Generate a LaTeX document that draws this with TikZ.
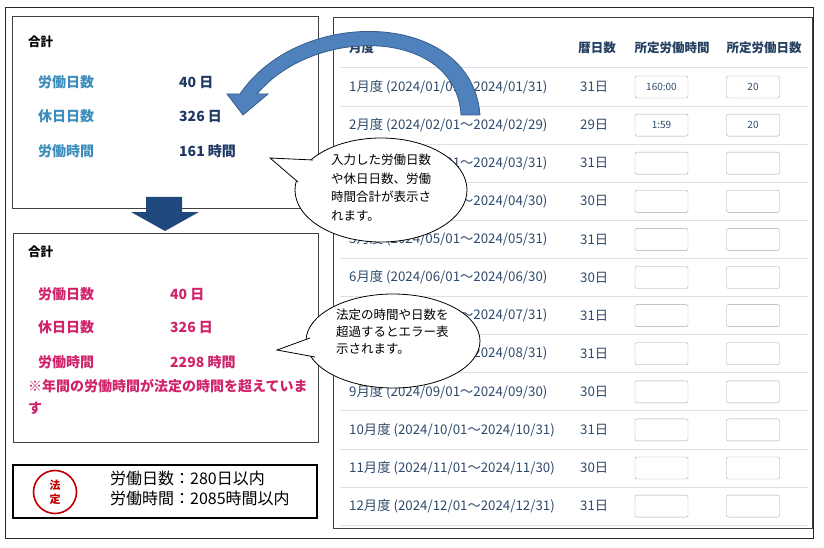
\documentclass[tikz,border=0pt]{standalone}
\usepackage{fontspec}
\setmainfont{Noto Sans CJK JP}
\definecolor{lblue}{HTML}{3C8DBC}
\definecolor{navy}{HTML}{1F3864}
\definecolor{mag}{HTML}{D0246A}
\definecolor{tbl}{HTML}{2E4A6B}
\definecolor{hdr}{HTML}{243F60}
\definecolor{rowl}{HTML}{D9E1EA}
\definecolor{inb}{HTML}{A0A8B0}
\definecolor{arrf}{HTML}{4F81BD}
\definecolor{arrd}{HTML}{385D8A}
\definecolor{darr}{HTML}{1F497D}
\definecolor{hred}{HTML}{C00000}
\tikzset{
 panel/.style={draw=black!75,line width=0.8pt},
 t/.style={anchor=west,inner sep=0pt,font=\fontsize{13.3}{15}\selectfont,text=tbl},
 th/.style={inner sep=0pt,font=\bfseries\fontsize{12.5}{14}\selectfont,text=hdr},
 inbox/.style={draw=inb,rounded corners=2pt,minimum width=53pt,minimum height=22pt,inner sep=0pt,font=\fontsize{10}{11}\selectfont,text=tbl},
 lab/.style={anchor=west,inner sep=0pt,font=\bfseries\fontsize{14}{16}\selectfont},
 bub/.style={align=left,anchor=north west,inner sep=0pt,font=\fontsize{12.5}{18.5}\selectfont},
}
\begin{document}
\begin{tikzpicture}[x=1pt,y=-1pt]
\useasboundingbox (0,0) rectangle (824,548);
\draw[black!85,line width=0.9pt] (5,7) rectangle (813,538);
% right panel
\draw[panel] (333,17) rectangle (812,528);
\node[th,anchor=west] (hm) at (349,48) {月度};
\node[th] (hd) at (597,48) {暦日数};
\node[th] (ht) at (672,48) {所定労働時間};
\node[th] (hn) at (764,48) {所定労働日数};
\foreach \i in {0,...,12}{\draw[rowl,line width=1pt] (340,{68+38.1*\i}) -- (808,{68+38.1*\i});}
\foreach \m/\a/\b/\d [count=\i from 0] in {1/01/01/31,2/02/02/29,3/03/03/31,4/04/04/30,5/05/05/31,6/06/06/30,7/07/07/31,8/08/08/31,9/09/09/30,10/10/10/31,11/11/11/30,12/12/12/31}{
 \node[t] (m\m) at (349,{87+38.1*\i}) {\m 月度 (2024/\a/01～2024/\b/\d)};
 \node[t] (d\m) at (580,{87+38.1*\i}) {\d 日};
}
\foreach \m [count=\i from 0] in {1,...,12}{
 \node[inbox] (it\m) at (661.5,{87+38.1*\i}) {};
 \node[inbox] (in\m) at (753,{87+38.1*\i}) {};
}
\node[font=\fontsize{10}{11}\selectfont,text=tbl] at (it1) {160:00};
\node[font=\fontsize{10}{11}\selectfont,text=tbl] at (it2) {1:59};
\node[font=\fontsize{10}{11}\selectfont,text=tbl] at (in1) {20};
\node[font=\fontsize{10}{11}\selectfont,text=tbl] at (in2) {20};
% box 1
\draw[panel] (12,16) rectangle (318,208);
\node[lab,font=\bfseries\fontsize{12.5}{14}\selectfont] (g1) at (28,42) {合計};
\node[lab,text=lblue] (a1) at (38,82) {労働日数};
\node[lab,text=lblue] (b1) at (38,116) {休日日数};
\node[lab,text=lblue] (c1) at (38,151) {労働時間};
\node[lab,text=navy] (a1v) at (179,82) {40 日};
\node[lab,text=navy] (b1v) at (179,116) {326 日};
\node[lab,text=navy] (c1v) at (179,151) {161 時間};
% down arrow
\fill[darr] (146,197) -- (182,197) -- (182,212) -- (199,212) -- (165,231) -- (131,212) -- (146,212) -- cycle;
% box 2
\draw[panel] (13,233) rectangle (318,442);
\node[lab,font=\bfseries\fontsize{12.5}{14}\selectfont] (g2) at (28,252) {合計};
\node[lab,text=mag] (a2) at (38,294) {労働日数};
\node[lab,text=mag] (b2) at (38,327) {休日日数};
\node[lab,text=mag] (c2) at (38,362) {労働時間};
\node[lab,text=mag] (a2v) at (170,294) {40 日};
\node[lab,text=mag] (b2v) at (170,327) {326 日};
\node[lab,text=mag] (c2v) at (170,362) {2298 時間};
\node[lab,text=mag,anchor=north west,align=left,font=\bfseries\fontsize{14}{22}\selectfont] (w2) at (28,379) {※年間の労働時間が法定の時間を超えていま\\す};
% legal box
\draw[black,line width=1.2pt] (13,465) rectangle (317,518);
\node[circle,draw=hred,line width=1.6pt,minimum size=43pt,inner sep=0pt,align=center,text=hred,font=\bfseries\fontsize{11}{14}\selectfont] (hc) at (55,492) {法\\定};
\node[anchor=north west,inner sep=0pt,align=left,font=\fontsize{16}{20}\selectfont] (lt) at (110,471) {労働日数：280日以内\\労働時間：2085時間以内};
% curved arrow
\draw[arrd,fill=arrf,line width=0.8pt] (240,94) .. controls (300,5) and (472,10) .. (480,115) -- (461,115) .. controls (456,28) and (315,25) .. (257,94) -- (268,94) -- (243,115) -- (227,94) -- cycle;
% callout 1
\draw[fill=white,line width=0.8pt] (381,190) ellipse [x radius=86,y radius=52];
\fill[white] (313,160) -- (270,158) -- (298,182) -- (320,185) -- (325,165) -- cycle;
\draw[line width=0.8pt] (313,160) -- (270,158) -- (298,182);
\node[bub] (bt1) at (331,154) {入力した労働日数\\や休日日数、労働\\時間合計が表示さ\\れます。};
% callout 2
\draw[fill=white,line width=0.8pt] (393,341) ellipse [x radius=87,y radius=47];
\fill[white] (310,338) -- (277,350) -- (315,357) -- (325,352) -- (322,340) -- cycle;
\draw[line width=0.8pt] (310,338) -- (277,350) -- (315,357);
\node[bub,font=\fontsize{12.5}{17}\selectfont] (bt2) at (336,309) {法定の時間や日数を\\超過するとエラー表\\示されます。};
\end{tikzpicture}
\end{document}
